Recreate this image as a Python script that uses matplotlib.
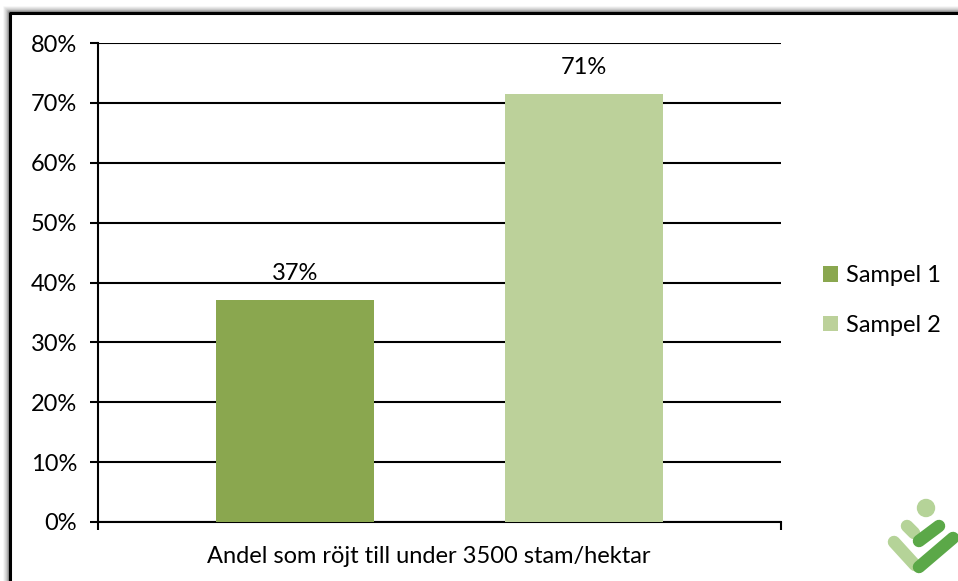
import numpy as np
import matplotlib.pyplot as plt
from matplotlib.patches import Ellipse, Rectangle
from matplotlib.lines import Line2D

plt.rcParams['font.family'] = ['Lato', 'DejaVu Sans']

# data
category = 'Andel som röjt till under 3500 stam/hektar'
series = ['Sampel 1', 'Sampel 2']
values = [0.37, 0.714]
colors = ['#8AA74F', '#BCD19A']
yticks = [0, 0.1, 0.2, 0.3, 0.4, 0.5, 0.6, 0.7, 0.8]

W, H = 958, 581
fig = plt.figure(figsize=(W / 100, H / 100), dpi=100)

def fx(px):
    return px / W

def fy(py):
    return 1 - py / H

# outer frame (top and left edges visible) with soft shadow
for i, a in enumerate([0.04, 0.07, 0.11, 0.16, 0.24, 0.34]):
    off = 6 - i
    fig.add_artist(Line2D([fx(10 - off), fx(10 - off), 1.0], [0.0, fy(13 - off), fy(13 - off)],
                          transform=fig.transFigure, color='black', alpha=a, lw=1.2))
fig.add_artist(Line2D([fx(10), fx(10), 1.0], [0.0, fy(13), fy(13)],
                      transform=fig.transFigure, color='black', lw=2.2))

ax = fig.add_axes([fx(98), fy(522), fx(781) - fx(98), fy(43) - fy(522)])

width = 0.2313
offsets = [-0.2116, 0.2116]
for name, v, c, o in zip(series, values, colors, offsets):
    ax.bar(0.5 + o, v, width=width, color=c, label=name, zorder=3)
    ax.annotate('%.0f%%' % np.floor(v * 100), (0.5 + o, v), xytext=(0, 12),
                textcoords='offset points', ha='center', va='bottom', fontsize=17)

ax.set_xlim(0, 1)
ax.set_ylim(0, 0.8)
ax.set_yticks(yticks)
ax.set_yticklabels(['%d%%' % round(t * 100) for t in yticks], fontsize=17)
ax.set_xticks([0, 1])
ax.set_xticklabels([])
ax.tick_params(axis='y', length=6, width=1.5, pad=9)
ax.tick_params(axis='x', length=6, width=1.5, direction='out')
ax.text(0.484, -0.05, category, transform=ax.transAxes, ha='center', va='top', fontsize=17)
ax.grid(axis='y', color='black', lw=1.5, zorder=0)
for s in ['top', 'right']:
    ax.spines[s].set_visible(False)
for s in ['left', 'bottom']:
    ax.spines[s].set_linewidth(1.5)

ax.legend(loc='center left', bbox_to_anchor=(1.03, 0.4624), frameon=False, fontsize=17,
          handlelength=0.65, handleheight=0.65, handletextpad=0.35, labelspacing=1.2)

# white strip at the right edge, below the frame line
fig.add_artist(Rectangle((fx(944), 0), 1 - fx(944), fy(16), transform=fig.transFigure,
                         facecolor='white', edgecolor='none', zorder=0.5))

# logo
light, dark = '#B5D398', '#5BA848'
fig.add_artist(Ellipse((fx(926), fy(508)), 17 / W, 17 / H, transform=fig.transFigure, color=light))
for (x0, y0, x1, y1, c) in [(907, 526, 914, 533, light), (894, 542, 915, 565, light),
                            (919, 541, 939, 526, dark), (919, 567, 953, 538, dark)]:
    fig.add_artist(Line2D([fx(x0), fx(x1)], [fy(y0), fy(y1)], transform=fig.transFigure,
                          color=c, lw=9, solid_capstyle='round'))

fig.savefig('out.png', dpi=100)
